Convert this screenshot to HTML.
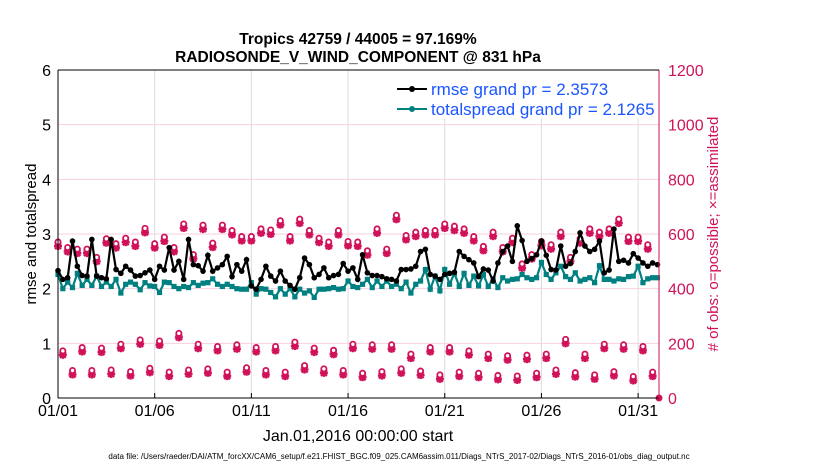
<!DOCTYPE html>
<html><head><meta charset="utf-8"><style>
body{margin:0;background:#fff;font-family:"Liberation Sans",Arial,sans-serif}
svg text{font-family:"Liberation Sans",Arial,sans-serif}
</style></head><body>
<svg id="chart" width="830" height="470" viewBox="0 0 830 470">
<text x="358" y="44" text-anchor="middle" font-size="15.5" font-weight="bold">Tropics 42759 / 44005 = 97.169%</text>
<text x="358" y="62" text-anchor="middle" font-size="15.5" font-weight="bold">RADIOSONDE_V_WIND_COMPONENT @ 831 hPa</text>
<g id="grid"></g>
<g id="marks"></g>
<g id="axes"></g>
<text transform="translate(36,234) rotate(-90)" text-anchor="middle" font-size="15">rmse and totalspread</text>
<text transform="translate(718,234) rotate(-90)" text-anchor="middle" font-size="15" fill="#d0125a"># of obs: o=possible; ×=assimilated</text>
<text x="358" y="441" text-anchor="middle" font-size="16">Jan.01,2016 00:00:00 start</text>
<text x="399" y="459" text-anchor="middle" font-size="8">data file: /Users/raeder/DAI/ATM_forcXX/CAM6_setup/f.e21.FHIST_BGC.f09_025.CAM6assim.011/Diags_NTrS_2017-02/Diags_NTrS_2016-01/obs_diag_output.nc</text>
<g>
<rect x="386" y="71" width="264" height="47" fill="#fff" stroke="#fff"/>
<line x1="397" y1="89" x2="427" y2="89" stroke="#000" stroke-width="2"/>
<circle cx="412" cy="89" r="3" fill="#000"/>
<text x="431" y="95" font-size="17" fill="#1a55ff">rmse grand pr = 2.3573</text>
<line x1="397" y1="109" x2="427" y2="109" stroke="#008080" stroke-width="2"/>
<circle cx="412" cy="109" r="3" fill="#008080"/>
<text x="431" y="115" font-size="17" fill="#1a55ff">totalspread grand pr = 2.1265</text>
</g>
</svg>
<script>
const rmse=[2.33,2.17,2.2,2.87,2.41,2.24,2.23,2.9,2.23,2.2,2.18,2.9,2.35,2.28,2.41,2.34,2.23,2.24,2.29,2.34,2.17,2.41,2.34,2.75,2.34,2.5,2.17,2.9,2.44,2.42,2.32,2.61,2.32,2.38,2.44,2.59,2.22,2.44,2.32,2.53,2.05,1.99,2.17,2.41,2.23,2.14,2.32,2.14,2.06,1.99,2.2,2.56,2.44,2.2,2.26,2.38,2.2,2.24,2.26,2.46,2.32,
2.38,2.17,2.62,2.29,2.24,2.24,2.22,2.18,2.17,2.14,2.35,2.35,2.36,2.41,2.68,2.72,2.26,2.23,2.17,2.26,2.28,2.3,2.68,2.59,2.53,2.47,2.22,2.36,2.34,2.14,2.47,2.68,2.78,2.5,3.15,2.88,2.5,2.55,2.62,2.87,2.61,2.35,2.34,2.78,2.41,2.46,2.68,3.02,2.78,2.68,2.72,2.87,2.29,2.34,3.09,2.5,2.52,2.47,2.64,2.56,2.47,2.41,2.47,2.44];
const spread=[2.26,2.0,2.12,2.02,2.28,2.06,2.17,2.06,2.23,2.04,2.12,2.04,2.17,1.92,2.08,2.12,2.08,1.98,2.11,2.05,2.04,1.93,2.12,2.11,2.04,2.0,2.04,2.02,2.11,2.06,2.1,2.11,2.18,2.08,2.04,2.08,2.04,2.0,1.99,1.99,2.11,1.9,2.0,1.99,1.93,1.85,2.0,1.9,2.0,1.85,1.99,1.92,1.96,1.84,1.99,1.99,2.0,2.02,1.99,2.0,2.14,
2.04,2.02,2.08,2.17,2.02,2.14,2.04,2.14,2.04,2.08,2.0,2.12,1.92,2.08,2.14,2.35,1.99,2.23,1.96,2.35,2.08,2.28,2.04,2.28,2.06,2.23,2.05,2.26,2.04,2.18,2.02,2.2,2.14,2.17,2.18,2.26,2.2,2.17,2.2,2.48,2.26,2.17,2.29,2.41,2.22,2.17,2.29,2.14,2.17,2.2,2.11,2.42,2.17,2.17,2.14,2.18,2.17,2.22,2.23,2.41,2.11,2.18,2.2,2.2];
const obsHigh=[556,536,530,530,500,568,550,570,556,606,550,574,536,622,510,618,552,618,598,576,576,604,600,634,576,640,598,570,556,598,558,
556,524,604,530,654,580,592,598,598,622,614,604,576,540,592,536,570,476,510,558,546,592,500,568,604,592,604,640,574,574,546];
const obsLow=[158,86,170,86,168,88,182,82,198,94,194,80,222,88,182,92,174,80,180,96,170,86,174,80,190,104,168,92,160,86,182,76,180,82,180,92,146,84,170,70,170,80,158,76,146,68,140,66,142,76,146,88,200,78,146,70,182,82,180,64,174,80];
const xTickLabels=["01/01","01/06","01/11","01/16","01/21","01/26","01/31"];
const xTickDays=[0,5,10,15,20,25,30];
const yTickLeft=[0,1,2,3,4,5,6];
const yTickRight=[0,200,400,600,800,1000,1200];

const X0=58,X1=659,Y0=398,Y1=70,XMAX=31.08;
const sx=d=>X0+d/XMAX*(X1-X0);
const sy=v=>Y0-v/6*(Y0-Y1);
const syR=v=>Y0-v/1200*(Y0-Y1);
const NS="http://www.w3.org/2000/svg";
function mk(t,a,p){const e=document.createElementNS(NS,t);for(const k in a)e.setAttribute(k,a[k]);p.appendChild(e);return e;}
const grid=document.getElementById('grid'),marks=document.getElementById('marks'),axes=document.getElementById('axes');
xTickDays.forEach((d,i)=>{
 const l=mk('line',{x1:sx(d),x2:sx(d),y1:Y1,y2:Y0,stroke:'#dcdcdc','stroke-width':1},grid);
 
 
 const t=mk('text',{x:sx(d),y:Y0+18,'text-anchor':'middle','font-size':16},axes);
 t.textContent=xTickLabels[i];
 
 
 mk('line',{x1:sx(d),x2:sx(d),y1:Y0,y2:Y0-5,stroke:'#000'},axes);
});
yTickLeft.forEach((v,i)=>{
 const l=mk('line',{x1:X0,x2:X1,y1:sy(v),y2:sy(v),stroke:'#f7d0de','stroke-width':1},grid);
 
 
 const t=mk('text',{x:X0-7,y:sy(v)+6,'text-anchor':'end','font-size':16},axes);
 t.textContent=v;
 
 
 const r=mk('text',{x:X1+9,y:syR(yTickRight[i])+6,'text-anchor':'start','font-size':16,fill:'#d0125a'},axes);
 r.textContent=yTickRight[i];
 
 
});
mk('line',{x1:X0,x2:X0,y1:Y1,y2:Y0,stroke:'#000'},axes);
mk('line',{x1:X0,x2:X1,y1:Y0,y2:Y0,stroke:'#000'},axes);
mk('line',{x1:X1,x2:X1,y1:Y1,y2:Y0,stroke:'#d0125a'},axes);
mk('line',{x1:X0,x2:X1,y1:Y1,y2:Y1,stroke:'#000'},axes);
function star(x,y,name){
 const g=mk('g',{stroke:'#d0125a','stroke-width':2.4},marks);
 
 
 mk('line',{x1:x-4,x2:x+4,y1:y,y2:y},g);mk('line',{x1:x,x2:x,y1:y-4,y2:y+4},g);
 mk('line',{x1:x-3,x2:x+3,y1:y-3,y2:y+3},g);mk('line',{x1:x-3,x2:x+3,y1:y+3,y2:y-3},g);
 mk('circle',{cx:x,cy:y-4,r:2.6,fill:'#fff','stroke-width':1.8},g);
}
obsHigh.forEach((v,i)=>star(sx(i*0.5),syR(v),'obs-count-high'));
obsLow.forEach((v,i)=>star(sx(0.25+i*0.5),syR(v),'obs-count-low'));
function series(arr,col,name,sq){
 const p=mk('polyline',{points:arr.map((v,i)=>sx(i*0.25)+','+sy(v)).join(' '),fill:'none',stroke:col,'stroke-width':2.2},marks);
 
 
 arr.forEach((v,i)=>{
  const m=sq?mk('rect',{x:sx(i*0.25)-2.6,y:sy(v)-2.6,width:5.2,height:5.2,fill:col},marks):mk('circle',{cx:sx(i*0.25),cy:sy(v),r:2.8,fill:col},marks);
  
  
 });
}
series(spread,'#008080','totalspread',true);
series(rmse,'#000','rmse',false);
const z=mk('circle',{cx:X1,cy:Y0,r:3.5,fill:'#d0125a'},marks);


</script>
</body></html>
